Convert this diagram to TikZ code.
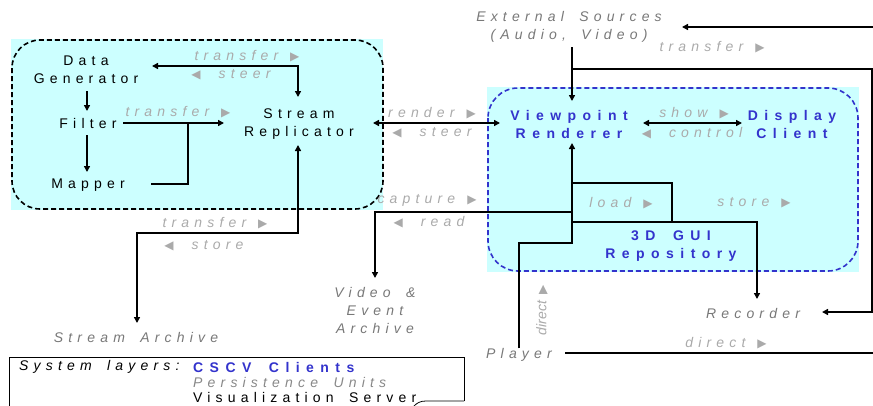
\documentclass[tikz,border=0pt]{standalone}
\usepackage{fontspec}
\setmainfont{Liberation Sans}[LetterSpace=37, WordSpace=1.7, BoldFeatures={LetterSpace=46}]
\newfontfamily\plainsans{Liberation Sans}
\newfontfamily\symf{DejaVu Sans}
\usetikzlibrary{arrows.meta,calc}
\definecolor{cyanbg}{RGB}{204,255,255}
\definecolor{myblue}{RGB}{51,51,204}
\definecolor{lgray}{RGB}{170,170,170}
\definecolor{dgray}{RGB}{120,120,120}
\newcommand{\rtri}{\hspace*{12pt}{\symf\fontsize{12}{12}\selectfont ▶}}
\newcommand{\ltri}{{\symf\fontsize{12}{12}\selectfont ◀}\hspace*{18pt}}
\tikzset{
  base/.style={inner sep=0pt, align=center, font=\fontsize{14}{18}\selectfont},
  blk/.style={base},
  blu/.style={base, font=\fontsize{14}{18}\selectfont\bfseries, text=myblue},
  gry/.style={base, font=\fontsize{14}{18}\selectfont\itshape, text=dgray},
  lbl/.style={base, font=\fontsize{14}{18}\selectfont\itshape, text=lgray},
  conn/.style={line width=1.6pt, line join=miter},
  tip/.style={-{Triangle[length=6pt,width=6pt]}},
  tips/.style={{Triangle[length=6pt,width=6pt]}-{Triangle[length=6pt,width=6pt]}},
  groupbox/.style={line width=1.6pt, dash pattern=on 5pt off 3pt, rounded corners=28pt},
}
\begin{document}
\begin{tikzpicture}[x=1pt,y=-1pt]
\useasboundingbox (0,0) rectangle (873,405);
% backgrounds
\fill[cyanbg] (11,39) rectangle (383,210);
\draw[groupbox, black] (12,40) rectangle (383,209);
\fill[cyanbg] (487,87) rectangle (859,272);
\draw[groupbox, myblue, rounded corners=30pt] (488,88) rectangle (858,271);

% nodes
\node[blk] (dg) at (86,70) {Data\\Generator};
\node[blk] (fi) at (88,123) {Filter};
\node[blk] (ma) at (88,185) {Mapper};
\node[blk] (sr) at (299,124) {Stream\\Replicator};
\node[blu] (vr) at (569,124) {Viewpoint\\Renderer};
\node[blu] (dc) at (792,124) {Display\\Client};
\node[gry] (es) at (569,27) {External Sources\\(Audio, Video)};
\node[blu] (gui) at (671,246) {3D GUI\\Repository};
\node[gry] (sa) at (136,337) {Stream Archive};
\node[gry] (ve) at (375,310) {Video \&\\Event\\Archive};
\node[gry] (rec) at (753,313) {Recorder};
\node[gry] (pl) at (519,355) {Player};

% connectors
\draw[conn, tips] ($(dg)+(66,-4)$) -| ($(sr)+(-1,-27)$);
\draw[conn, tip] ($(dg)+(1,21)$) -- ($(fi)+(-1,-12)$);
\draw[conn, tip] ($(fi)+(-1,12)$) -- ($(ma)+(-1,-13)$);
\draw[conn, tip] ($(fi)+(35,0)$) -- ($(sr)+(-75,-1)$);
\coordinate (mj) at ($(fi)+(100,0)$);
\draw[conn] ($(ma)+(63,-1)$) -| (mj);
\draw[conn, tips] ($(sr)+(74,-1)$) -- ($(vr)+(-69,-1)$);
\draw[conn, tip] ($(es)+(3,20)$) -- ($(vr)+(3,-23)$);
\coordinate (esr) at (872,69);
\draw[conn, tip] ($(es)+(3,42)$) -- (esr) |- ($(rec)+(69,-1)$);
\coordinate (offr) at (873,27);
\draw[conn, tip] (offr) -- ($(es)+(113,0)$);
\draw[conn, tips] ($(vr)+(74,-1)$) -- ($(dc)+(-50,-1)$);
\draw[conn, tip] (pl.north) -- ($(pl)+(0,-112)$) -- ($(vr)+(3,-1)+(0,120)$) -- ($(vr)+(3,19)$);
\draw[conn] ($(vr)+(3,59)$) -| ($(gui)+(1,-24)$);
\draw[conn, tip] ($(vr)+(3,98)$) -| ($(rec)+(4,-14)$);
\draw[conn, tip] ($(vr)+(3,88)$) -| ($(ve)+(0,-32)$);
\draw[conn, tips] ($(sa)+(1,-14)$) |- ($(sr)+(-1,109)$) -- ($(sr)+(-1,21)$);
\coordinate (offr2) at (873,353);
\draw[conn] ($(pl)+(46,-2)$) -- (offr2);

% labels
\node[lbl] (l1) at (247,56) {transfer\rtri};
\node[lbl] (l2) at (231,75) {\ltri steer};
\node[lbl] (l3) at (178,112) {transfer\rtri};
\node[lbl] (l4) at (432,113) {render\rtri};
\node[lbl] (l5) at (432,133) {\ltri steer};
\node[lbl] (l6) at (712,47) {transfer\rtri};
\node[lbl] (l7) at (694,113) {show\rtri};
\node[lbl] (l8) at (692,133) {\ltri control};
\node[lbl] (l9) at (427,200) {capture\rtri};
\node[lbl] (l10) at (429,222) {\ltri read};
\node[lbl] (l11) at (621,203) {load\rtri};
\node[lbl] (l12) at (754,203) {store\rtri};
\node[lbl] (l13) at (215,223) {transfer\rtri};
\node[lbl] (l14) at (204,246) {\ltri store};
\node[lbl] (l15) at (726,343) {direct\rtri};
\node[lbl, rotate=90, font=\plainsans\fontsize{14}{14}\selectfont\itshape] (l16) at (542,310) {direct\hspace*{7pt}{\symf\fontsize{12}{12}\selectfont ▶}};

% legend
\draw[line width=0.8pt] (464,401) -- (464,357) -- (9,357) -- (9,406);
\draw[line width=0.8pt] (464,401) -- (426,401) .. controls (420,401) and (417,403) .. (414,406);
\node[base, font=\fontsize{14}{15}\selectfont\itshape, anchor=west] (leg) at (19,367) {System layers:};
\node[blu, anchor=west] (lg1) at (193,367) {CSCV Clients};
\node[gry, anchor=west, text=lgray!80!black] (lg2) at (193,382) {Persistence Units};
\node[blk, anchor=west] (lg3) at (193,397) {Visualization Server};
\end{tikzpicture}
\end{document}
